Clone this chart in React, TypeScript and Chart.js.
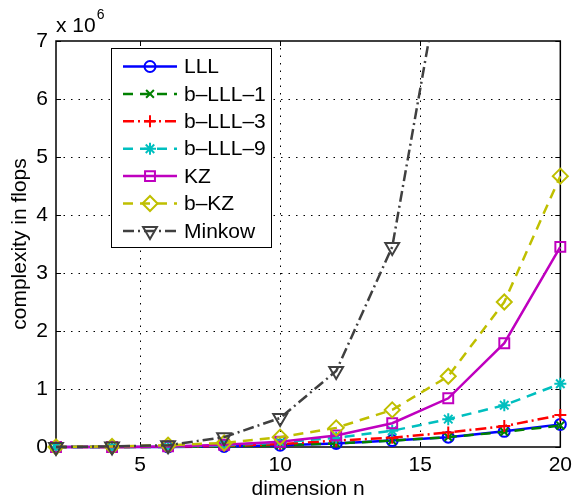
import React, { useEffect, useRef } from 'react';
import { Chart, registerables } from 'chart.js';
import { drawPoint } from 'chart.js/helpers';

Chart.register(...registerables);

// ---- data (complexity in units of 10^6 flops) ----
const dims = [2, 4, 6, 8, 10, 12, 14, 16, 18, 20];
const lll = [0, 0, 0.002, 0.01, 0.03, 0.06, 0.11, 0.17, 0.27, 0.39];
const bLll1 = [0, 0, 0.002, 0.01, 0.03, 0.06, 0.11, 0.17, 0.26, 0.37];
const bLll3 = [0, 0, 0.004, 0.02, 0.05, 0.11, 0.16, 0.25, 0.36, 0.55];
const bLll9 = [0, 0, 0.006, 0.03, 0.08, 0.16, 0.28, 0.48, 0.72, 1.09];
const kz = [0, 0, 0.01, 0.04, 0.09, 0.2, 0.41, 0.84, 1.79, 3.45];
const bKz = [0, 0.01, 0.03, 0.07, 0.17, 0.33, 0.64, 1.22, 2.5, 4.67];
const minkow = [0, 0.01, 0.03, 0.17, 0.5, 1.31, 3.45, 8.9, null, null];

const seriesNames = ['LLL', 'b–LLL–1', 'b–LLL–3', 'b–LLL–9', 'KZ', 'b–KZ', 'Minkow'];
const seriesValues = [lll, bLll1, bLll3, bLll9, kz, bKz, minkow];

const xTickValues = [5, 10, 15, 20];
const yTickValues = [0, 1, 2, 3, 4, 5, 6, 7];

// ---- styles ----
const styles = [
  { color: '#0000ff', dash: [], point: 'circle', radius: 5.5, rot: 0 },
  { color: '#008000', dash: [10, 7], point: 'crossRot', radius: 5.5, rot: 0 },
  { color: '#ff0000', dash: [11, 4, 2, 4], point: 'cross', radius: 6, rot: 0 },
  { color: '#00bfbf', dash: [10, 7], point: 'star', radius: 6, rot: 0 },
  { color: '#bf00bf', dash: [], point: 'rect', radius: 7, rot: 0 },
  { color: '#bfbf00', dash: [10, 7], point: 'rectRot', radius: 7.5, rot: 0 },
  { color: '#404040', dash: [11, 4, 2, 4], point: 'triangle', radius: 8, rot: 180 },
];

const FONT = "'Liberation Sans', Arial, Helvetica, sans-serif";

const decor = {
  id: 'decor',
  beforeDatasetsDraw(chart: any) {
    const { ctx, chartArea: a, scales } = chart;
    const x = scales.x, y = scales.y;
    ctx.save();
    // dotted grid
    ctx.strokeStyle = '#000';
    ctx.lineWidth = 1;
    ctx.setLineDash([1.5, 6]);
    for (const v of xTickValues) {
      const px = Math.round(x.getPixelForValue(v)) + 0.5;
      if (px > a.right - 2) continue;
      ctx.beginPath(); ctx.moveTo(px, a.bottom); ctx.lineTo(px, a.top); ctx.stroke();
    }
    for (const v of yTickValues) {
      const py = Math.round(y.getPixelForValue(v)) + 0.5;
      if (py < a.top + 2 || py > a.bottom - 2) continue;
      ctx.beginPath(); ctx.moveTo(a.left, py); ctx.lineTo(a.right, py); ctx.stroke();
    }
    ctx.setLineDash([]);
    // box
    ctx.lineWidth = 1.5;
    ctx.strokeStyle = '#000';
    ctx.strokeRect(a.left, a.top, a.right - a.left, a.bottom - a.top);
    // inward ticks
    const tl = 5;
    ctx.lineWidth = 1;
    for (const v of xTickValues) {
      const px = Math.round(x.getPixelForValue(v)) + 0.5;
      ctx.beginPath();
      ctx.moveTo(px, a.bottom); ctx.lineTo(px, a.bottom - tl);
      ctx.moveTo(px, a.top); ctx.lineTo(px, a.top + tl);
      ctx.stroke();
    }
    for (const v of yTickValues) {
      const py = Math.round(y.getPixelForValue(v)) + 0.5;
      ctx.beginPath();
      ctx.moveTo(a.left, py); ctx.lineTo(a.left + tl, py);
      ctx.moveTo(a.right, py); ctx.lineTo(a.right - tl, py);
      ctx.stroke();
    }
    ctx.restore();
  },
  afterDatasetsDraw(chart: any) {
    const { ctx } = chart;
    ctx.save();
    // legend box
    const lx = 111, ly = 48, lw = 160, lh = 199;
    ctx.fillStyle = '#fff';
    ctx.fillRect(lx, ly, lw, lh);
    ctx.strokeStyle = '#000';
    ctx.lineWidth = 1;
    ctx.strokeRect(lx + 0.5, ly + 0.5, lw, lh);
    ctx.font = `21px ${FONT}`;
    ctx.textBaseline = 'middle';
    ctx.textAlign = 'left';
    seriesNames.forEach((name, i) => {
      const st = styles[i];
      const cy = 66.5 + i * 27.4;
      ctx.strokeStyle = st.color;
      ctx.lineWidth = 2.5;
      ctx.setLineDash(st.dash);
      ctx.beginPath(); ctx.moveTo(123, cy); ctx.lineTo(177, cy); ctx.stroke();
      ctx.setLineDash([]);
      ctx.lineWidth = 2;
      ctx.fillStyle = 'rgba(0,0,0,0)';
      drawPoint(ctx, { pointStyle: st.point, radius: st.radius, rotation: st.rot, borderWidth: 2 } as any, 150, cy);
      ctx.fillStyle = '#000';
      ctx.fillText(name, 184, cy + 1);
    });
    ctx.restore();
  },
  afterDraw(chart: any) {
    const { ctx, chartArea: a } = chart;
    ctx.save();
    ctx.fillStyle = '#000';
    ctx.font = `21px ${FONT}`;
    ctx.textBaseline = 'alphabetic';
    // x title
    ctx.textAlign = 'center';
    ctx.fillText('dimension n', (a.left + a.right) / 2, 495);
    // y title
    ctx.save();
    ctx.translate(26, (a.top + a.bottom) / 2);
    ctx.rotate(-Math.PI / 2);
    ctx.fillText('complexity in flops', 0, 0);
    ctx.restore();
    // exponent label
    ctx.textAlign = 'left';
    const base = 'x 10';
    ctx.fillText(base, 56, 32);
    const w = ctx.measureText(base).width;
    ctx.font = `14px ${FONT}`;
    ctx.fillText('6', 56 + w + 1, 19);
    ctx.restore();
  },
};

export default function App() {
  const ref = useRef<HTMLCanvasElement>(null);
  useEffect(() => {
    if (!ref.current) return;
    const datasets = seriesNames.map((name, i) => {
      const st = styles[i];
      return {
        label: name,
        data: dims.map((d, j) => ({ x: d, y: seriesValues[i][j] })),
        borderColor: st.color,
        backgroundColor: 'rgba(0,0,0,0)',
        borderWidth: 2.5,
        borderDash: st.dash,
        pointStyle: st.point,
        pointRadius: st.radius,
        pointRotation: st.rot,
        pointBorderColor: st.color,
        pointBackgroundColor: 'rgba(0,0,0,0)',
        pointBorderWidth: 2,
        tension: 0,
        fill: false,
        order: seriesNames.length - i,
        clip: { left: 12, right: 12, top: 0, bottom: 12 },
      };
    });
    const chart = new Chart(ref.current, {
      type: 'line',
      data: { datasets: datasets as any },
      options: {
        animation: false,
        responsive: true,
        maintainAspectRatio: false,
        layout: { padding: { top: 41, right: 16, left: 0, bottom: 0 } },
        plugins: { legend: { display: false }, tooltip: { enabled: false } },
        scales: {
          x: {
            type: 'linear',
            min: 2,
            max: 20,
            afterBuildTicks: (s: any) => { s.ticks = xTickValues.map((v) => ({ value: v })); },
            afterFit: (s: any) => { s.height = 50; },
            grid: { display: false, drawTicks: false },
            border: { display: false },
            ticks: { color: '#000', font: { size: 21, family: FONT }, padding: 6, maxRotation: 0, autoSkip: false },
          },
          y: {
            type: 'linear',
            min: 0,
            max: 7,
            afterBuildTicks: (s: any) => { s.ticks = yTickValues.map((v) => ({ value: v })); },
            afterFit: (s: any) => { s.width = 56; },
            grid: { display: false, drawTicks: false },
            border: { display: false },
            ticks: { color: '#000', font: { size: 21, family: FONT }, padding: 8, autoSkip: false },
          },
        },
      },
      plugins: [decor],
    });
    return () => chart.destroy();
  }, []);
  return (
    <div style={{ position: 'fixed', left: 0, top: 0, width: 578, height: 497, background: '#fff' }}>
      <canvas ref={ref} />
    </div>
  );
}
